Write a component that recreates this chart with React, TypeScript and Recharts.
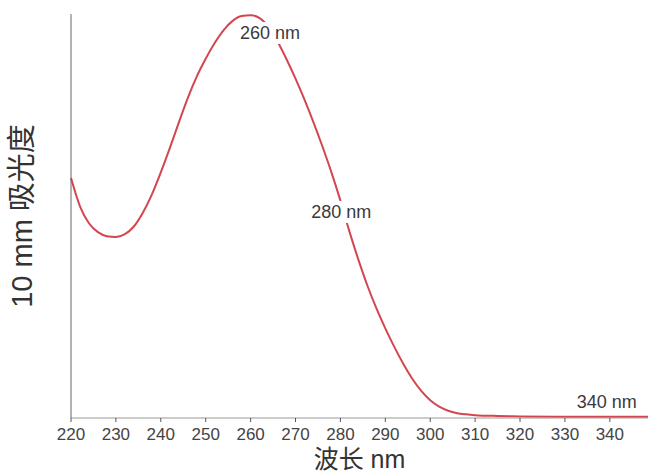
import React from 'react';
import { LineChart, Line, XAxis, YAxis, ReferenceDot } from 'recharts';

const wavelengths = [220, 222, 224, 226, 228, 230, 232, 234, 236, 238, 240, 242, 244, 246, 248, 250, 252, 254, 256, 258, 260, 262, 264, 266, 268, 270, 272, 274, 276, 278, 280, 282, 284, 286, 288, 290, 292, 294, 296, 298, 300, 302, 304, 306, 308, 310, 315, 320, 330, 340, 348.5];
const absorbance = [0.594, 0.524, 0.482, 0.46, 0.45, 0.448, 0.455, 0.474, 0.508, 0.553, 0.608, 0.668, 0.731, 0.792, 0.845, 0.889, 0.928, 0.96, 0.983, 0.995, 0.997, 0.99, 0.968, 0.932, 0.888, 0.84, 0.788, 0.732, 0.672, 0.608, 0.538, 0.462, 0.392, 0.328, 0.272, 0.222, 0.176, 0.134, 0.097, 0.067, 0.044, 0.028, 0.018, 0.012, 0.009, 0.007, 0.005, 0.004, 0.003, 0.003, 0.003];
const xTicks = [220, 230, 240, 250, 260, 270, 280, 290, 300, 310, 320, 330, 340];
const annotations = [
  { text: '260 nm', wl: 264.3, v: 0.953 },
  { text: '280 nm', wl: 280.2, v: 0.51 },
  { text: '340 nm', wl: 339.3, v: 0.04 },
];

const data = wavelengths.map((wl, i) => ({ wl, a: absorbance[i] }));

const FONT = '"Liberation Sans", Arial, Helvetica, sans-serif';
const CJK = '"Liberation Sans", "Noto Sans CJK SC", sans-serif';

const makeLabel = (text: string) => (props: any) => {
  const vb = props.viewBox || {};
  const cx = vb.x + (vb.width || 0) / 2;
  const cy = vb.y + (vb.height || 0) / 2;
  const w = text.length * 10.2 + 4;
  return (
    <g>
      <rect x={cx - w / 2} y={cy - 11} width={w} height={22} fill="#ffffff" />
      <text x={cx} y={cy} textAnchor="middle" dominantBaseline="central" fontFamily={FONT} fontSize={18} fill="#3a3a3a">
        {text}
      </text>
    </g>
  );
};

const YLabel = (props: any) => {
  const vb = props.viewBox || {};
  const cy = vb.y + vb.height / 2;
  const cx = 22;
  return (
    <text x={cx} y={cy} textAnchor="middle" dominantBaseline="central" transform={`rotate(-90 ${cx} ${cy})`} fontFamily={CJK} fontSize={29} fill="#333">
      10 mm 吸光度
    </text>
  );
};

const XLabel = (props: any) => {
  const vb = props.viewBox || {};
  const cx = vb.x + vb.width / 2;
  return (
    <text x={cx} y={459} textAnchor="middle" dominantBaseline="central" fontFamily={CJK} fontSize={25} fill="#333">
      波长 nm
    </text>
  );
};

export default function App() {
  return (
    <div style={{ position: 'absolute', left: 0, top: 0, background: '#fff' }}>
      <LineChart width={648} height={474} data={data} margin={{ top: 14, right: 0, left: 70, bottom: 0 }}>
        <XAxis
          dataKey="wl"
          type="number"
          domain={[220, 348.5]}
          ticks={xTicks}
          height={56}
          tickSize={4}
          tickMargin={6}
          axisLine={{ stroke: '#9a9a9a' }}
          tickLine={{ stroke: '#555' }}
          tick={{ fontFamily: FONT, fontSize: 17, fill: '#444' }}
          label={<XLabel />}
        />
        <YAxis
          type="number"
          domain={[0, 1]}
          width={1}
          tick={false}
          tickLine={false}
          axisLine={{ stroke: '#666' }}
          label={<YLabel />}
        />
        <Line type="monotone" dataKey="a" stroke="#d4464f" strokeWidth={2} dot={false} isAnimationActive={false} />
        {annotations.map((an) => (
          <ReferenceDot key={an.text} x={an.wl} y={an.v} r={0} fill="none" stroke="none" label={makeLabel(an.text)} />
        ))}
      </LineChart>
    </div>
  );
}
